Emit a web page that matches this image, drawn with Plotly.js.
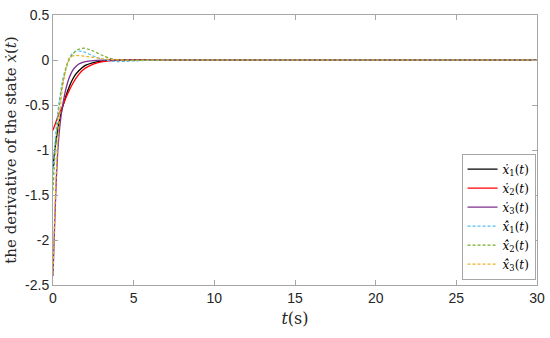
<!DOCTYPE html>
<html>
<head>
<meta charset="utf-8">
<script src="https://cdn.plot.ly/plotly-3.0.1.min.js"></script>
<style>
  body { margin: 0; background: #fff; }
  #chart { width: 550px; height: 338px; }
</style>
</head>
<body>
<div id="chart"></div>
<script>
// time samples (s)
const t = [0, 0.1, 0.2, 0.3, 0.4, 0.5, 0.6, 0.8, 1.0, 1.2, 1.4, 1.6, 1.8, 2.0, 2.5, 3.0, 3.5, 4.0, 4.5, 5, 6, 7, 8, 10, 15, 20, 25, 30];

// actual state derivatives
const x1 = [-1.2, -1.02, -0.88, -0.77, -0.67, -0.59, -0.52, -0.40, -0.30, -0.22, -0.16, -0.12, -0.085, -0.06, -0.028, -0.012, -0.005, -0.002, -0.001, 0, 0, 0, 0, 0, 0, 0, 0, 0];
const x2 = [-0.78, -0.73, -0.68, -0.63, -0.59, -0.55, -0.51, -0.42, -0.34, -0.27, -0.21, -0.16, -0.12, -0.09, -0.045, -0.02, -0.009, -0.004, -0.002, -0.001, 0, 0, 0, 0, 0, 0, 0, 0];
const x3 = [-2.4, -1.85, -1.35, -1.0, -0.78, -0.62, -0.5, -0.32, -0.2, -0.12, -0.075, -0.045, -0.028, -0.018, -0.006, -0.002, 0, 0, 0, 0, 0, 0, 0, 0, 0, 0, 0, 0];

// estimated state derivatives
const xh1 = [-1.27, -0.98, -0.76, -0.58, -0.44, -0.32, -0.22, -0.08, 0.02, 0.07, 0.095, 0.1, 0.095, 0.085, 0.045, 0.01, -0.01, -0.018, -0.015, -0.01, -0.004, 0, 0, 0, 0, 0, 0, 0];
const xh2 = [-1.45, -1.12, -0.86, -0.65, -0.49, -0.36, -0.25, -0.1, 0.0, 0.06, 0.1, 0.12, 0.13, 0.13, 0.1, 0.055, 0.02, 0.004, -0.004, -0.006, -0.003, 0, 0, 0, 0, 0, 0, 0];
const xh3 = [-2.38, -1.75, -1.25, -0.9, -0.64, -0.45, -0.3, -0.1, 0.02, 0.045, 0.05, 0.048, 0.045, 0.04, 0.03, 0.016, 0.007, 0.002, 0, 0, 0, 0, 0, 0, 0, 0, 0, 0];

const xTicks = [0, 5, 10, 15, 20, 25, 30];
const yTicks = [0.5, 0, -0.5, -1, -1.5, -2, -2.5];
const yTickText = ["0.5", "0", "-0.5", "-1", "-1.5", "-2", "-2.5"];

const serif = "DejaVu Serif";
const dot = "\u0307", hat = "\u0302";
function label(sub, est) {
  const x = est ? "x" + hat + dot : "x" + dot;
  return "<i>" + x + "</i><sub>" + sub + "</sub>(<i>t</i>)";
}

const traces = [
  { y: x1, name: label(1, false), line: { color: "#000000", width: 1.3 } },
  { y: x2, name: label(2, false), line: { color: "#ff0000", width: 1.3 } },
  { y: x3, name: label(3, false), line: { color: "#7e2f8e", width: 1.3 } },
  { y: xh1, name: label(1, true), line: { color: "#4dbeee", width: 1.2, dash: "3px,2px" } },
  { y: xh2, name: label(2, true), line: { color: "#77ac30", width: 1.2, dash: "3px,2px" } },
  { y: xh3, name: label(3, true), line: { color: "#edb120", width: 1.2, dash: "3px,2px" } }
].map(tr => {
  tr.x = t;
  tr.type = "scatter";
  tr.mode = "lines";
  tr.line.shape = "spline";
  tr.line.smoothing = 0.6;
  return tr;
});

const axisCommon = {
  showgrid: false,
  zeroline: false,
  showline: true,
  mirror: "ticks",
  linecolor: "#a6a6a6",
  linewidth: 1,
  ticks: "inside",
  ticklen: 5,
  tickcolor: "#a6a6a6",
  tickfont: { family: "Liberation Sans", size: 14, color: "#262626" }
};

const layout = {
  width: 550,
  height: 338,
  margin: { l: 53, r: 13, t: 15, b: 53 },
  paper_bgcolor: "#ffffff",
  plot_bgcolor: "#ffffff",
  showlegend: true,
  xaxis: Object.assign({}, axisCommon, {
    range: [0, 30],
    tickvals: xTicks,
    ticktext: xTicks.map(String),
    title: { text: "<i>t</i>(s)", standoff: 8, font: { family: serif, size: 16, color: "#262626" } }
  }),
  yaxis: Object.assign({}, axisCommon, {
    range: [-2.5, 0.5],
    tickvals: yTicks,
    ticktext: yTickText,
    title: { text: "the derivative of the state <i>x" + dot + "</i>(<i>t</i>)", standoff: 4, font: { family: serif, size: 15, color: "#262626" } }
  }),
  legend: {
    x: 0.997, xanchor: "right", y: 0.02, yanchor: "bottom",
    bgcolor: "#ffffff",
    bordercolor: "#a6a6a6",
    borderwidth: 1,
    itemwidth: 30,
    tracegroupgap: 0,
    font: { family: serif, size: 12, color: "#000000" }
  }
};

Plotly.newPlot("chart", traces, layout, { displayModeBar: false, staticPlot: true });
</script>
</body>
</html>
